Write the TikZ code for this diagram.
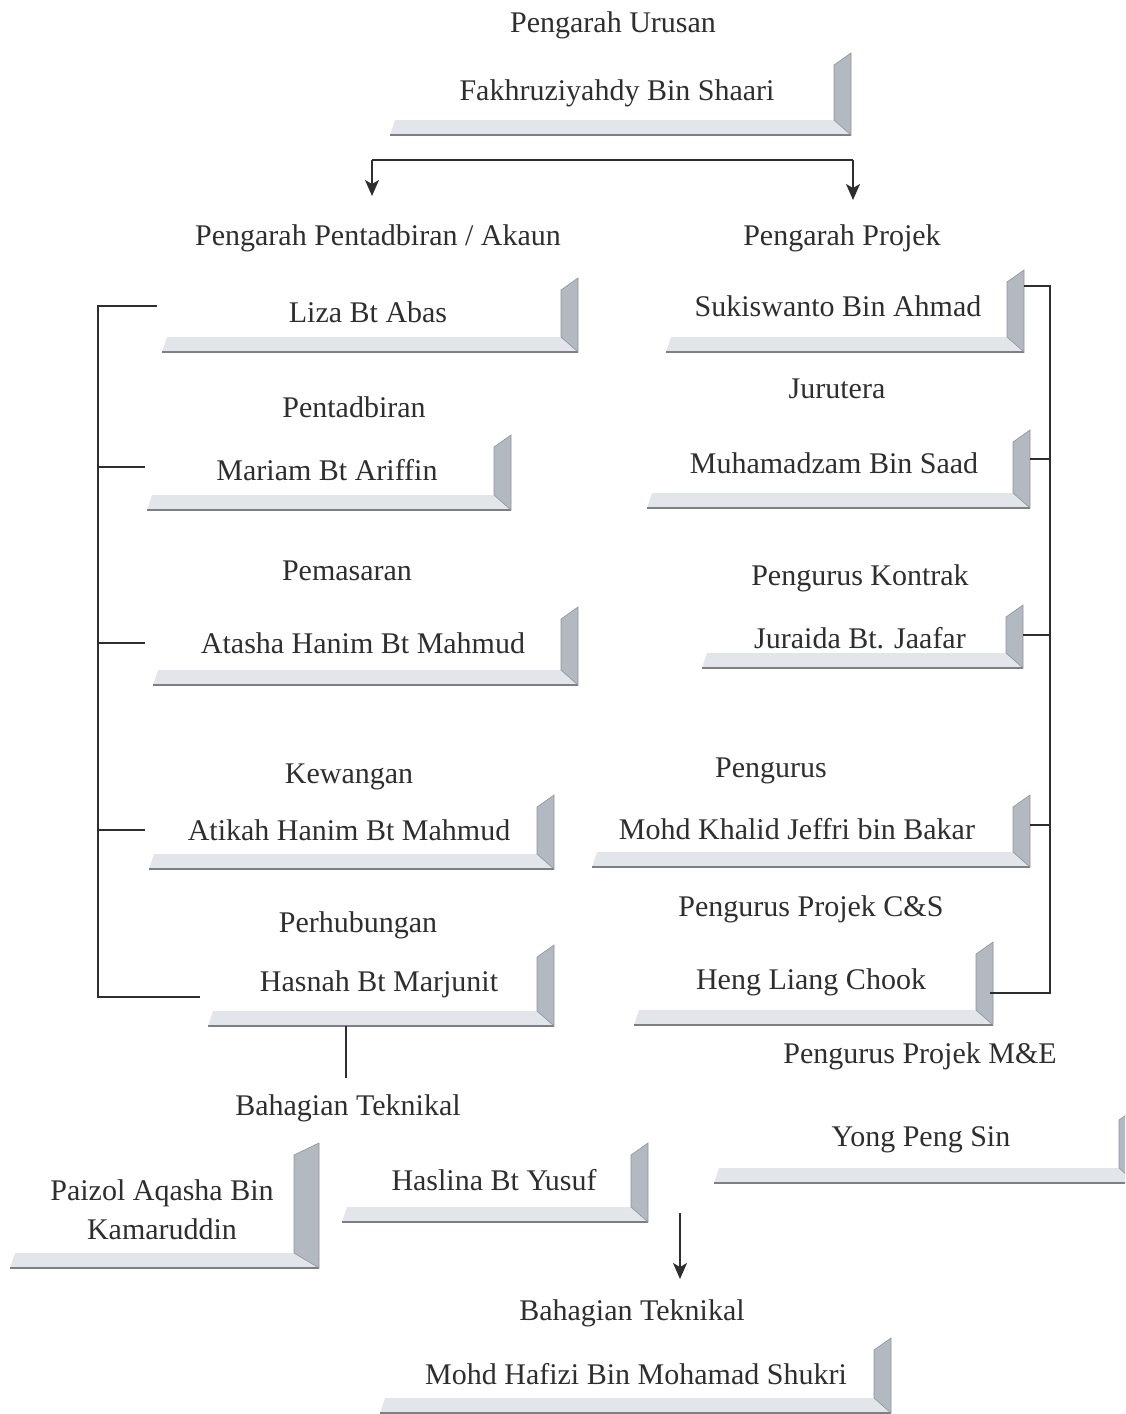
\documentclass[tikz,border=0pt]{standalone}
\usepackage{fontspec}
\setmainfont{Liberation Serif}
\usetikzlibrary{arrows.meta}
\definecolor{ink}{HTML}{2E2E2E}
\definecolor{slabgrey}{HTML}{E2E5E9}
\definecolor{panelgrey}{HTML}{B3B9C1}
\definecolor{edgegrey}{HTML}{7C8086}

% shelf under a name: [depth]{name}{left x}{right x}{panel top y}{slab bottom y}
\newcommand{\shelf}[6][17]{%
  \fill[slabgrey] (#3,#6) -- (#4,#6) -- (#4-#1,#6-15) -- (#3+5,#6-15) -- cycle;
  \draw[edgegrey, line width=1.8pt] (#3,#6) -- (#4,#6);
  \filldraw[fill=panelgrey, draw=panelgrey!80!black, line width=0.6pt]
    (#4-#1,#6-15) -- (#4,#6) -- (#4,#5) -- (#4-#1,#5+12) -- cycle;
  \coordinate (#2-e) at (#4,#5);
}

\begin{document}
\begin{tikzpicture}[x=1pt,y=-1pt,
    lbl/.style={font=\fontsize{30}{39}\selectfont, text=ink, inner sep=0pt, anchor=base},
    conn/.style={draw=ink, line width=1.6pt},
    arr/.style={conn, -{Stealth[length=16pt,width=14pt,inset=4pt]}}]
  \useasboundingbox (0,0) rectangle (1125,1414);
  \clip (0,0) rectangle (1125,1414);

  % shelves
  \shelf{fakh}{390}{851}{53}{135}
  \shelf{liza}{162}{578}{278}{352}
  \shelf{mariam}{147}{511}{435}{510}
  \shelf{atasha}{153}{578}{607}{685}
  \shelf{atikah}{149}{554}{795}{869}
  \shelf{hasnah}{208}{554}{945}{1026}
  \shelf{suki}{666}{1024}{270}{352}
  \shelf{muha}{647}{1030}{430}{508}
  \shelf{juraida}{702}{1023}{605}{668}
  \shelf{khalid}{592}{1030}{795}{867}
  \shelf{heng}{634}{993}{942}{1025}
  \shelf{yong}{714}{1136}{1108}{1183}
  \shelf[25]{paizol}{10}{319}{1143}{1268}
  \shelf{haslina}{342}{648}{1143}{1222}
  \shelf{hafizi}{380}{891}{1338}{1413}

  % titles and names
  \node[lbl] (urusan) at (613,32) {Pengarah Urusan};
  \node[lbl] (fakhn) at (617,100) {Fakhruziyahdy Bin Shaari};
  \node[lbl] (akaun) at (378,245) {Pengarah Pentadbiran / Akaun};
  \node[lbl] (projek) at (842,245) {Pengarah Projek};

  \node[lbl] (lizan) at (368,322) {Liza Bt Abas};
  \node[lbl] (pentad) at (354,417) {Pentadbiran};
  \node[lbl] (mariamn) at (327,480) {Mariam Bt Ariffin};
  \node[lbl] (pemasaran) at (347,580) {Pemasaran};
  \node[lbl] (atashan) at (363,653) {Atasha Hanim Bt Mahmud};
  \node[lbl] (kewangan) at (349,783) {Kewangan};
  \node[lbl] (atikahn) at (349,840) {Atikah Hanim Bt Mahmud};
  \node[lbl] (perhub) at (358,932) {Perhubungan};
  \node[lbl] (hasnahn) at (379,991) {Hasnah Bt Marjunit};

  \node[lbl] (sukin) at (838,316) {Sukiswanto Bin Ahmad};
  \node[lbl] (jurutera) at (837,398) {Jurutera};
  \node[lbl] (muhan) at (834,473) {Muhamadzam Bin Saad};
  \node[lbl] (kontrak) at (860,585) {Pengurus Kontrak};
  \node[lbl] (juraidan) at (860,648) {Juraida Bt. Jaafar};
  \node[lbl] (pengurus) at (771,777) {Pengurus};
  \node[lbl] (khalidn) at (797,839) {Mohd Khalid Jeffri bin Bakar};
  \node[lbl] (cs) at (811,916) {Pengurus Projek C\&S};
  \node[lbl] (hengn) at (811,989) {Heng Liang Chook};
  \node[lbl] (me) at (920,1063) {Pengurus Projek M\&E};
  \node[lbl] (yongn) at (921,1146) {Yong Peng Sin};

  \node[lbl] (tekA) at (348,1115) {Bahagian Teknikal};
  \node[lbl, align=center, anchor=center] (paizoln) at (162,1210) {Paizol Aqasha Bin\\Kamaruddin};
  \node[lbl] (haslinan) at (494,1190) {Haslina Bt Yusuf};
  \node[lbl] (tekB) at (632,1320) {Bahagian Teknikal};
  \node[lbl] (hafizin) at (636,1384) {Mohd Hafizi Bin Mohamad Shukri};

  % fork under the managing director
  \coordinate (forkL) at (372,160);
  \coordinate (forkR) at (853,160);
  \draw[conn] (forkL) -- (forkR);
  \draw[arr] (forkL) -- (forkL |- akaun.north) [shorten >=28pt];
  \draw[arr] (forkR) -- (forkR |- projek.north) [shorten >=24pt];

  % left bracket
  \coordinate (brL) at (98,0);
  \coordinate (liza-w) at (157,306);
  \coordinate (mariam-w) at (145,467);
  \coordinate (atasha-w) at (145,643);
  \coordinate (atikah-w) at (145,830);
  \coordinate (hasnah-w) at (200,997);
  \draw[conn] (liza-w) -- (brL |- liza-w) -- (brL |- hasnah-w) -- (hasnah-w);
  \foreach \n in {mariam,atasha,atikah}
    \draw[conn] (brL |- \n-w) -- (\n-w);

  % right bracket
  \coordinate (brR) at (1050,0);
  \coordinate (suki-t) at (1024,286);
  \coordinate (muha-t) at (1030,459);
  \coordinate (juraida-t) at (1023,635);
  \coordinate (khalid-t) at (1030,825);
  \coordinate (heng-t) at (990,993);
  \draw[conn] (suki-t) -- (brR |- suki-t) -- (brR |- heng-t) -- (heng-t);
  \foreach \n in {muha,juraida,khalid}
    \draw[conn] (\n-t) -- (brR |- \n-t);

  % technical branch
  \coordinate (stem) at (346,1026);
  \draw[conn] (stem) -- (stem |- tekA.north) [shorten >=16pt];
  \coordinate (drop) at (680,1213);
  \draw[arr] (drop) -- (drop |- tekB.north) [shorten >=20pt];
\end{tikzpicture}
\end{document}
